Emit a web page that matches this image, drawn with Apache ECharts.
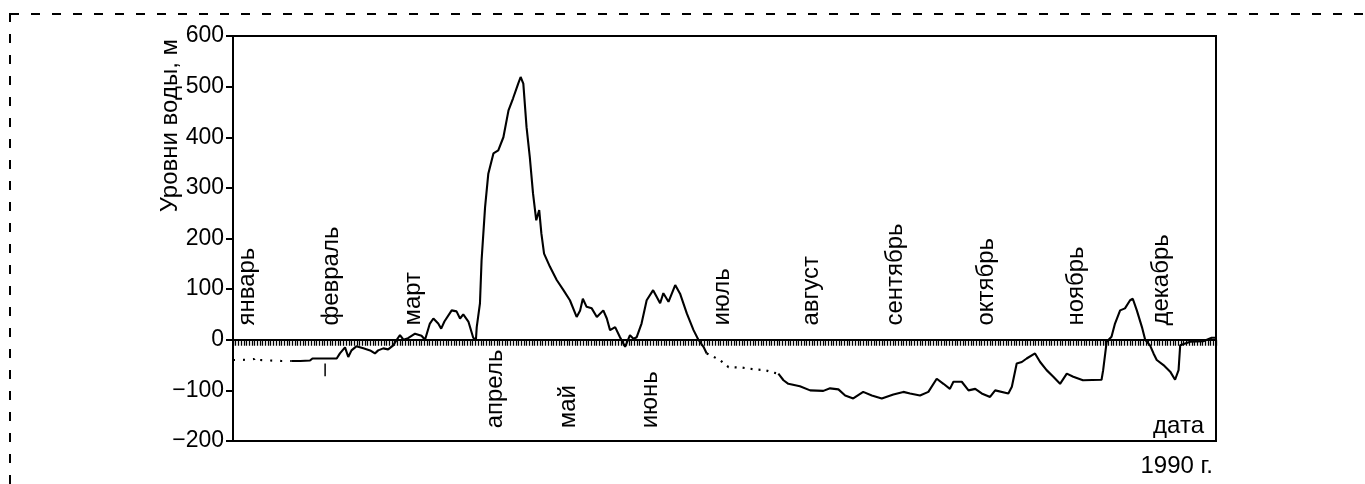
<!DOCTYPE html>
<html>
<head>
<meta charset="utf-8">
<script src="https://cdn.jsdelivr.net/npm/echarts@6/dist/echarts.min.js"></script>
<style>
html,body{margin:0;padding:0;background:#fff;}
#c{width:1365px;height:484px;}
</style>
</head>
<body>
<div id="c"></div>
<script>
// ---- data (day of year 1990, water level, m) ----
var janDotted = [[0,-40],[3,-40],[6,-39],[8,-38],[9,-33],[10,-40],[14,-41],[18,-42],[21.8,-42]];
var springSolid = [[21.8,-42],[25,-42],[28.6,-41],[29.5,-37],[38.5,-37],[39.7,-27],[41.6,-15],[42.8,-34],[44,-21],[45.8,-13],[48.4,-17],[50.9,-21],[52.7,-27],[53.9,-21],[55.8,-17],[57.6,-19],[59.5,-11],[60.8,0],[62,9],[63.3,0],[65,3],[67.6,12],[70,8],[71.3,0],[73.1,32],[74.4,42],[76.2,32],[77.3,22],[78.5,36],[81.2,58],[83,56],[84.3,42],[85.5,50],[87.4,36],[89.2,4],[90.2,0],[90.5,25],[91.7,72],[92.3,157],[93.6,262],[94.8,328],[96.7,368],[98.5,374],[100.4,400],[102.3,453],[104,477],[105.9,506],[106.8,519],[107.8,506],[109,420],[110.2,361],[111.4,289],[112.6,236],[113.7,256],[114.5,210],[115.5,170],[117.7,144],[120.2,118],[122.7,98],[125.1,78],[127.6,45],[128.9,58],[129.9,81],[131.3,65],[133.2,62],[135.1,45],[137.5,58],[138.8,42],[140,19],[141.9,25],[143.7,5],[145.6,-14],[147.4,9],[148.7,2],[149.9,5],[151.7,32],[153.6,78],[156,98],[158.6,72],[159.8,92],[161.7,75],[164.2,108],[166,91],[168.5,52],[171,19],[172.8,0],[174.7,-14],[175.9,-27]];
var julyDotted = [[175.9,-27],[180.8,-40],[184,-54],[188.9,-55],[194.5,-59],[197.6,-60],[200,-64],[202.5,-67]];
var autumnSolid = [[202.5,-67],[204.4,-80],[206.2,-87],[210.5,-92],[214.3,-100],[219.2,-101],[221.7,-96],[224.8,-98],[227.3,-110],[230.3,-116],[234,-103],[237.2,-110],[240.9,-116],[245.2,-108],[248.9,-103],[251.4,-106],[255.1,-110],[258.2,-103],[261.3,-77],[263.8,-87],[266.2,-97],[267.5,-83],[270.6,-83],[273.1,-100],[275.6,-97],[278,-106],[281.1,-113],[283,-100],[287.9,-106],[289.2,-93],[291,-47],[292.9,-44],[294.7,-37],[297.8,-27],[299.7,-44],[302.1,-60],[304.6,-73],[307.1,-87],[309.6,-67],[312,-73],[315.6,-80],[322.5,-79],[323.1,-60],[324.4,-4],[326.2,6],[327.5,32],[329.4,58],[331.2,62],[333.1,78],[334.1,81],[335.6,58],[337.5,25],[338.7,0],[340.5,-11],[341.8,-27],[343,-40],[345.5,-50],[348,-63],[349.8,-79],[351.1,-60],[351.7,-11],[355.4,-4],[360.3,-3],[363.4,4],[365,4]];
var febMark = [[34.2,-47],[34.2,-72]];

var monthNames = ['январь','февраль','март','апрель','май','июнь','июль','август','сентябрь','октябрь','ноябрь','декабрь'];
var monthDays  = [5.3, 36.4, 66.8, 97.3, 124.5, 155, 181.6, 214.6, 246, 279.6, 313, 344.6];
var monthLevel = [28, 28, 28, -175, -175, -175, 28, 28, 28, 28, 28, 28];

var yTicks = {min:-200, max:600, step:100};
var yName = 'Уровни воды, м';
var xName = 'дата';
var yearText = '1990 г.';

var FONT = '"Liberation Sans", Arial, sans-serif';
var chart = echarts.init(document.getElementById('c'), null, {renderer:'canvas'});

var lineBase = {type:'line', showSymbol:false, symbol:'none', silent:true, z:3, animation:false};

chart.setOption({
  animation:false,
  backgroundColor:'#fff',
  grid:{left:233, right:149, top:36, bottom:43, show:true, borderColor:'#000', borderWidth:2, backgroundColor:'transparent'},
  xAxis:{
    type:'value', min:0, max:365, interval:1,
    axisLine:{show:true, onZero:true, lineStyle:{color:'#000', width:2}},
    axisTick:{show:true, length:6, lineStyle:{color:'#000', width:1.3}},
    axisLabel:{show:false},
    splitLine:{show:false}
  },
  yAxis:{
    type:'value', min:yTicks.min, max:yTicks.max, interval:yTicks.step,
    axisLine:{show:true, lineStyle:{color:'#000', width:2}},
    axisTick:{show:true, length:7, lineStyle:{color:'#000', width:2}},
    axisLabel:{color:'#000', fontSize:23, fontFamily:FONT, margin:9,
      formatter:function(v){ return String(v).replace('-', '\u2212'); }},
    splitLine:{show:false}
  },
  graphic:[
    {type:'rect', silent:true, shape:{x:10, y:14, width:1420, height:600},
     style:{fill:'none', stroke:'#000', lineWidth:2, lineDash:[9,12]}},
    {type:'text', silent:true, x:170, y:39, rotation:Math.PI/2,
     style:{text:yName, font:'24px ' + FONT, fill:'#000', align:'right', verticalAlign:'middle'}},
    {type:'text', silent:true, x:1204, y:426,
     style:{text:xName, font:'24px ' + FONT, fill:'#000', align:'right', verticalAlign:'middle'}},
    {type:'text', silent:true, x:1213, y:466,
     style:{text:yearText, font:'24px ' + FONT, fill:'#000', align:'right', verticalAlign:'middle'}}
  ],
  series:[
    Object.assign({}, lineBase, {data:janDotted, lineStyle:{color:'#000', width:2.2, type:[2,8]}}),
    Object.assign({}, lineBase, {data:springSolid, lineStyle:{color:'#000', width:2.1}}),
    Object.assign({}, lineBase, {data:julyDotted, lineStyle:{color:'#000', width:2.2, type:[2,6]}}),
    Object.assign({}, lineBase, {data:autumnSolid, lineStyle:{color:'#000', width:2.1}}),
    Object.assign({}, lineBase, {data:febMark, lineStyle:{color:'#000', width:1.5}}),
    {
      type:'custom', silent:true, z:5, animation:false,
      data: monthDays.map(function(d,i){ return [d, monthLevel[i], i]; }),
      renderItem:function(params, api){
        var p = api.coord([api.value(0), api.value(1)]);
        return {type:'text', x:p[0], y:p[1], rotation:Math.PI/2,
          style:{text:monthNames[api.value(2)], font:'24px ' + FONT, fill:'#000', align:'left', verticalAlign:'middle'}};
      }
    }
  ]
});
</script>
</body>
</html>
